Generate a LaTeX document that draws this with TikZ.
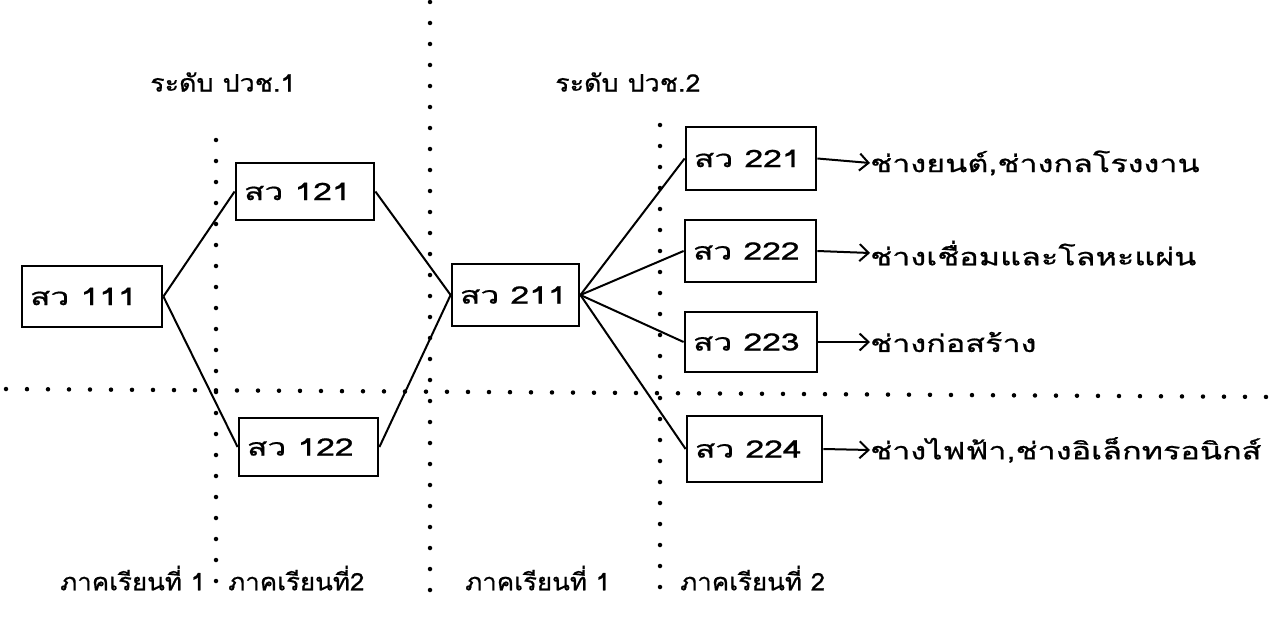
\documentclass[tikz,border=0pt]{standalone}
\usepackage{fontspec}
\usepackage{graphicx}
\newfontfamily\thai[Script=Thai, FakeBold=0.7]{Loma}
\newcommand{\wtext}[2]{\scalebox{#1}[1]{#2}}
\usetikzlibrary{arrows.meta}
\tikzset{
  box/.style={draw, line width=2.8pt, inner xsep=8pt, inner ysep=0pt, align=left, font=\thai\fontsize{24}{26}\selectfont},
  link/.style={line width=2pt},
  dotline/.style={line width=4.5pt, line cap=round, dash pattern=on 0pt off 21pt},
  label/.style={inner sep=0pt, anchor=west, font=\thai\fontsize{24}{26}\selectfont},
  outarrow/.style={line width=2pt, -{Straight Barb[length=9pt, width=17pt, line width=2pt]}}
}
\begin{document}
\begin{tikzpicture}[x=1pt,y=-1pt]
\useasboundingbox (0,0) rectangle (1279,618);
% dotted guide lines
\draw[dotline] (216,140) -- (216,595);
\draw[dotline] (430,2) -- (430,605);
\draw[dotline] (660,125) -- (660,605);
\draw[dotline] (6,389) -- (1275,397);
% top labels
\node[label] (lv1) at (150,82) {\wtext{1.12}{ระดับ ปวช.1}};
\node[label] (lv2) at (555,82) {\wtext{1.12}{ระดับ ปวช.2}};
% boxes
\node[box, text width=124pt, minimum height=61pt] (b111) at (92,296.5) {\wtext{1.4}{สว 111}};
\node[box, text width=122pt, minimum height=57pt] (b121) at (305,191.5) {\wtext{1.4}{สว 121}};
\node[box, text width=123pt, minimum height=58pt] (b122) at (308.5,447) {\wtext{1.4}{สว 122}};
\node[box, text width=111pt, minimum height=62pt] (b211) at (515.5,295) {\wtext{1.4}{สว 211}};
\node[box, text width=114pt, minimum height=63pt] (b221) at (751,158.5) {\wtext{1.4}{สว 221}};
\node[box, text width=115pt, minimum height=62pt] (b222) at (750.5,251) {\wtext{1.4}{สว 222}};
\node[box, text width=116pt, minimum height=60pt] (b223) at (751,342) {\wtext{1.4}{สว 223}};
\node[box, text width=119pt, minimum height=66pt] (b224) at (754.5,449) {\wtext{1.4}{สว 224}};
% connectors
\draw[link] (b111.east) -- (b121.west);
\draw[link] (b111.east) -- (b122.west);
\draw[link] (b121.east) -- (b211.west);
\draw[link] (b122.east) -- (b211.west);
\draw[link] (b211.east) -- (b221.west);
\draw[link] (b211.east) -- (b222.west);
\draw[link] (b211.east) -- (b223.west);
\draw[link] (b211.east) -- (b224.west);
% outputs
\node[label] (o1) at (870,163) {\wtext{1.35}{ช่างยนต์,ช่างกลโรงงาน}};
\node[label] (o2) at (870,253) {\wtext{1.35}{ช่างเชื่อมและโลหะแผ่น}};
\node[label] (o3) at (870,342) {\wtext{1.35}{ช่างก่อสร้าง}};
\node[label] (o4) at (870,450) {\wtext{1.35}{ช่างไฟฟ้า,ช่างอิเล็กทรอนิกส์}};
\draw[outarrow] (b221.east) -- (o1.west);
\draw[outarrow] (b222.east) -- (o2.west);
\draw[outarrow] (b223.east) -- (o3.west);
\draw[outarrow] (b224.east) -- (o4.west);
% bottom labels
\node[label] (s1) at (60,578) {\wtext{1.08}{ภาคเรียนที่ 1}};
\node[label] (s2) at (228,578) {\wtext{1.08}{ภาคเรียนที่2}};
\node[label] (s3) at (465,578) {\wtext{1.08}{ภาคเรียนที่ 1}};
\node[label] (s4) at (680,578) {\wtext{1.08}{ภาคเรียนที่ 2}};
\end{tikzpicture}
\end{document}
